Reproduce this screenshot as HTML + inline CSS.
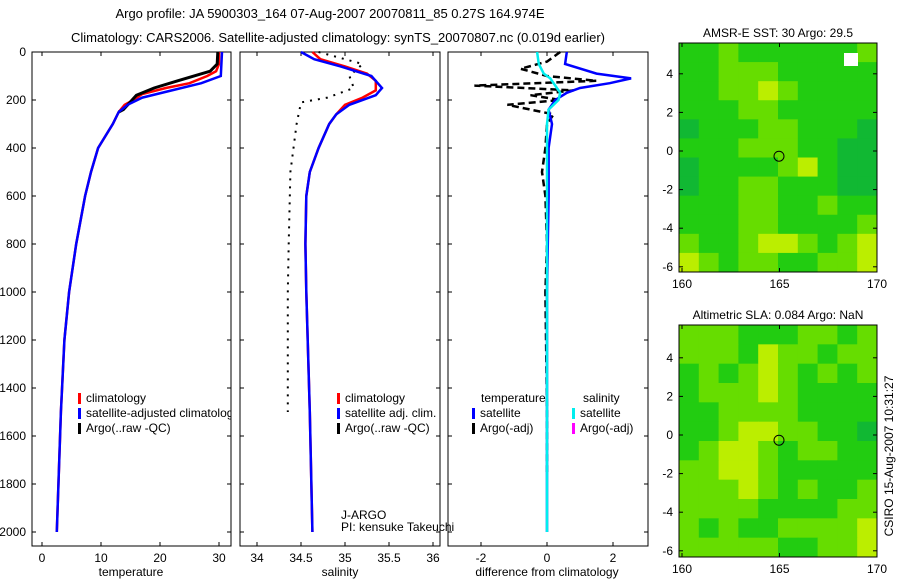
<!DOCTYPE html>
<html><head><meta charset="utf-8"><style>
html,body{margin:0;padding:0;background:#fff;}
svg{display:block;font-family:"Liberation Sans",sans-serif;}
text{font-size:12px;fill:#000;}
</style></head><body>
<svg id="fig" width="900" height="580" viewBox="0 0 900 580" xmlns="http://www.w3.org/2000/svg">
<defs><clipPath id="c1"><rect x="32" y="52" width="199" height="494"/></clipPath></defs>
<text x="330" y="18" text-anchor="middle" style="font-size:13px">Argo profile: JA 5900303_164 07-Aug-2007 20070811_85 0.27S 164.974E</text>
<text x="338" y="42" text-anchor="middle" style="font-size:13px">Climatology: CARS2006. Satellite-adjusted climatology: synTS_20070807.nc (0.019d earlier)</text>
<g id="g"></g>
<text transform="translate(893,456) rotate(-90)" text-anchor="middle">CSIRO 15-Aug-2007 10:31:27</text>
</svg>
<script>
// ---- profile data ----
const depthT = [0,50,80,100,130,150,175,200,220,250,300,400,500,600,800,1000,1200,1500,2000];
const tempClim = [30,30,29.5,28,25,21,17,15.5,14,13,12,9.5,8.3,7.3,5.8,4.6,3.8,3.2,2.5];
const depthTs = [0,100,130,160,190,220,250,300,400,500,600,800,1000,1200,1500,2000];
const tempSat = [30.5,30.3,27,22,17,14.5,13,12,9.5,8.3,7.3,5.8,4.6,3.8,3.2,2.5];
const depthTa = [0,50,80,120,150,180,240,250];
const tempArgo = [29.8,29.7,28.5,23,19,16,13.8,13];
const depthS = [0,30,60,90,120,160,190,220,260,300,400,500,600,800,1000,1500,2000];
const salClim = [34.63,34.72,35.0,35.25,35.35,35.35,35.2,35.0,34.9,34.82,34.7,34.6,34.56,34.55,34.56,34.6,34.63];
const depthSs = [0,30,60,100,150,180,220,260,300,400,500,600,800,1000,1500,2000];
const salSat = [34.5,34.65,34.95,35.3,35.42,35.35,35.05,34.9,34.82,34.7,34.6,34.56,34.55,34.56,34.6,34.63];
const depthSa = [0,30,50,100,150,190,210,300,500,800,1000,1500];
const salArgo = [34.7,35.0,35.2,35.05,35.1,34.8,34.5,34.45,34.38,34.36,34.35,34.35];
const depthD = [0,50,90,110,130,150,170,200,240,300,400,600,1000,1500,2000];
const diffTSat = [0.6,0.55,1.5,2.55,1.9,1.0,0.6,0.25,0.05,0.15,0.05,0.05,0.0,0.0,0.0];
const diffSSat = [-0.3,-0.25,-0.1,0.1,0.2,0.3,0.4,0.35,0.05,0.0,0.0,0.0,0.0,0.0,0.0];
const depthDa = [0,40,70,100,120,140,160,180,200,220,260,300,400,500,600,800,1000,1500,1750];
const diffTArgo = [0.4,0,-0.8,0,1.5,-2.2,0.8,-0.5,0.4,-1.2,0.2,0,-0.05,-0.15,-0.05,0,-0.05,0,0];
const tempTicks = [0,10,20,30];
const salTicks = [34,34.5,35,35.5,36];
const diffTicks = [-2,0,2];
const depthTicks = [0,200,400,600,800,1000,1200,1400,1600,1800,2000];
// ---- map data (levels 0 dark,1 green,2 light,3 yellow) ----
const mapSST = [
"1121111112",
"1122211111",
"1122321111",
"1112211111",
"0111221110",
"1112221100",
"0111123100",
"0112211100",
"1112211211",
"1112211112",
"2112332123",
"3212211223"];
const mapSLA = [
"2221112212",
"2221322122",
"1212321212",
"1222321111",
"1122221111",
"1123322110",
"1233212211",
"2233211111",
"2223212112",
"2222111122",
"2121122223",
"2222211223"];
const lonTicks = [160,165,170];
const latTicks = [4,2,0,-2,-4,-6];

const NS="http://www.w3.org/2000/svg";
const G=document.getElementById('g');
function el(tag,attrs,parent){const e=document.createElementNS(NS,tag);for(const k in attrs)e.setAttribute(k,attrs[k]);(parent||G).appendChild(e);return e;}
function txt(x,y,s,anchor){const t=el('text',{x:x,y:y,'text-anchor':anchor||'start'});t.textContent=s;return t;}

const yD=d=>52+d*0.24;
const xT=v=>42+v*5.9;
const xS=v=>257+(v-34)*88;
const xDf=v=>547+v*33;

function frame(x0,x1,y0,y1,name){const r=el('rect',{x:x0,y:y0,width:x1-x0,height:y1-y0,fill:'none',stroke:'#000','stroke-width':1});

}
function line(xs,ds,xf,color,w,dash,name){
 const p=xs.map((v,i)=>(i?'L':'M')+xf(v).toFixed(1)+','+yD(ds[i]).toFixed(1)).join('');
 const e=el('path',{d:p,fill:'none',stroke:color,'stroke-width':w});
 if(dash)e.setAttribute('stroke-dasharray',dash);
 
 
}
function xticks(ticks,xf,y0,y1,name){
 ticks.forEach(t=>{el('line',{x1:xf(t),x2:xf(t),y1:y1,y2:y1-4,stroke:'#000'});el('line',{x1:xf(t),x2:xf(t),y1:y0,y2:y0+4,stroke:'#000'});
 const l=txt(xf(t),y1+16,String(t),'middle');
 
 });
}
function yticks(x0,x1,label){
 depthTicks.forEach(d=>{el('line',{x1:x0,x2:x0+4,y1:yD(d),y2:yD(d),stroke:'#000'});el('line',{x1:x1,x2:x1-4,y1:yD(d),y2:yD(d),stroke:'#000'});
 if(label){const l=txt(x0-6,yD(d)+4,String(d),'end');
 
 }});
}
function legend(x,y,items,clip){
 items.forEach((it,i)=>{el('rect',{x:x,y:y+i*15-9,width:3,height:11,fill:it[1]});
 const t=txt(x+8,y+i*15,it[0]);
 if(clip)t.setAttribute('clip-path','url(#c1)');
 
 });
}
// Panel 1
frame(32,231,52,546,'temperature-axes');
yticks(32,231,true);xticks(tempTicks,xT,52,546,'temperature');
line(tempClim,depthT,xT,'#f00',2.5,null,'temperature-climatology-line');
line(tempArgo,depthTa,xT,'#000',3,null,'temperature-argo-line');
line(tempSat,depthTs,xT,'#00f',2.5,null,'temperature-satellite-line');
legend(78,402,[['climatology','#f00'],['satellite-adjusted climatology','#00f'],['Argo(..raw -QC)','#000']],true);
txt(131,576,'temperature','middle');
// Panel 2
frame(240,440,52,546,'salinity-axes');
yticks(240,440,false);xticks(salTicks,xS,52,546,'salinity');
line(salArgo,depthSa,xS,'#000',2,'2,6','salinity-argo-line');
line(salClim,depthS,xS,'#f00',2.5,null,'salinity-climatology-line');
line(salSat,depthSs,xS,'#00f',2.5,null,'salinity-satellite-line');
legend(337,402,[['climatology','#f00'],['satellite adj. clim.','#00f'],['Argo(..raw -QC)','#000']]);
txt(341,519,'J-ARGO');txt(341,531,'PI: kensuke Takeuchi');
txt(340,576,'salinity','middle');
// Panel 3
frame(448,648,52,546,'difference-axes');
yticks(448,648,false);xticks(diffTicks,xDf,52,546,'difference');
line(diffTArgo,depthDa,xDf,'#000',2.5,'7,4','argo-temperature-difference-line');
line(diffTSat,depthD,xDf,'#00f',2.5,null,'satellite-temperature-difference-line');
line(diffSSat,depthD,xDf,'#0ee',2.5,null,'satellite-salinity-difference-line');
txt(481,402,'temperature');txt(583,402,'salinity');
legend(472,417,[['satellite','#00f'],['Argo(-adj)','#000']]);
legend(572,417,[['satellite','#0ee'],['Argo(-adj)','#f0f']]);
txt(547,576,'difference from climatology','middle');
// Maps
const colors=['#11b833','#22cc11','#66dd00','#bbee00'];
function map(grid,x0,x1,y0,y1,lat0,title,name){
 const rows=grid.length,cols=grid[0].length,cw=(x1-x0)/cols,ch=(y1-y0)/rows;
 grid.forEach((r,i)=>{for(let j=0;j<cols;j++){const c=el('rect',{x:x0+j*cw,y:y0+i*ch,width:cw+0.5,height:ch+0.5,fill:colors[+r[j]]});
 
 }});
 frame(x0,x1,y0,y1,name+'-axes');
 const xL=v=>682+(v-160)*19.5,yL=v=>lat0-v*19.3;
 lonTicks.forEach(t=>{el('line',{x1:xL(t),x2:xL(t),y1:y1,y2:y1-4,stroke:'#000'});el('line',{x1:xL(t),x2:xL(t),y1:y0,y2:y0+4,stroke:'#000'});
  const l=txt(xL(t),y1+16,String(t),'middle');
  
  });
 latTicks.forEach(t=>{el('line',{x1:x0,x2:x0+4,y1:yL(t),y2:yL(t),stroke:'#000'});el('line',{x1:x1,x2:x1-4,y1:yL(t),y2:yL(t),stroke:'#000'});
  const l=txt(x0-6,yL(t)+4,String(t),'end');
  
  });
 const c=el('circle',{cx:xL(164.974),cy:yL(-0.27),r:5,fill:'none',stroke:'#000'});
 
 
 const t=txt((x0+x1)/2,y0-6,title,'middle');
 
 
}
map(mapSST,679,877,43,272,151,'AMSR-E SST: 30 Argo: 29.5','sst-map');
el('rect',{x:844,y:53,width:14,height:13,fill:'#fff'});
map(mapSLA,679,877,325,557,435,'Altimetric SLA: 0.084 Argo: NaN','sla-map');
</script>
</body></html>
